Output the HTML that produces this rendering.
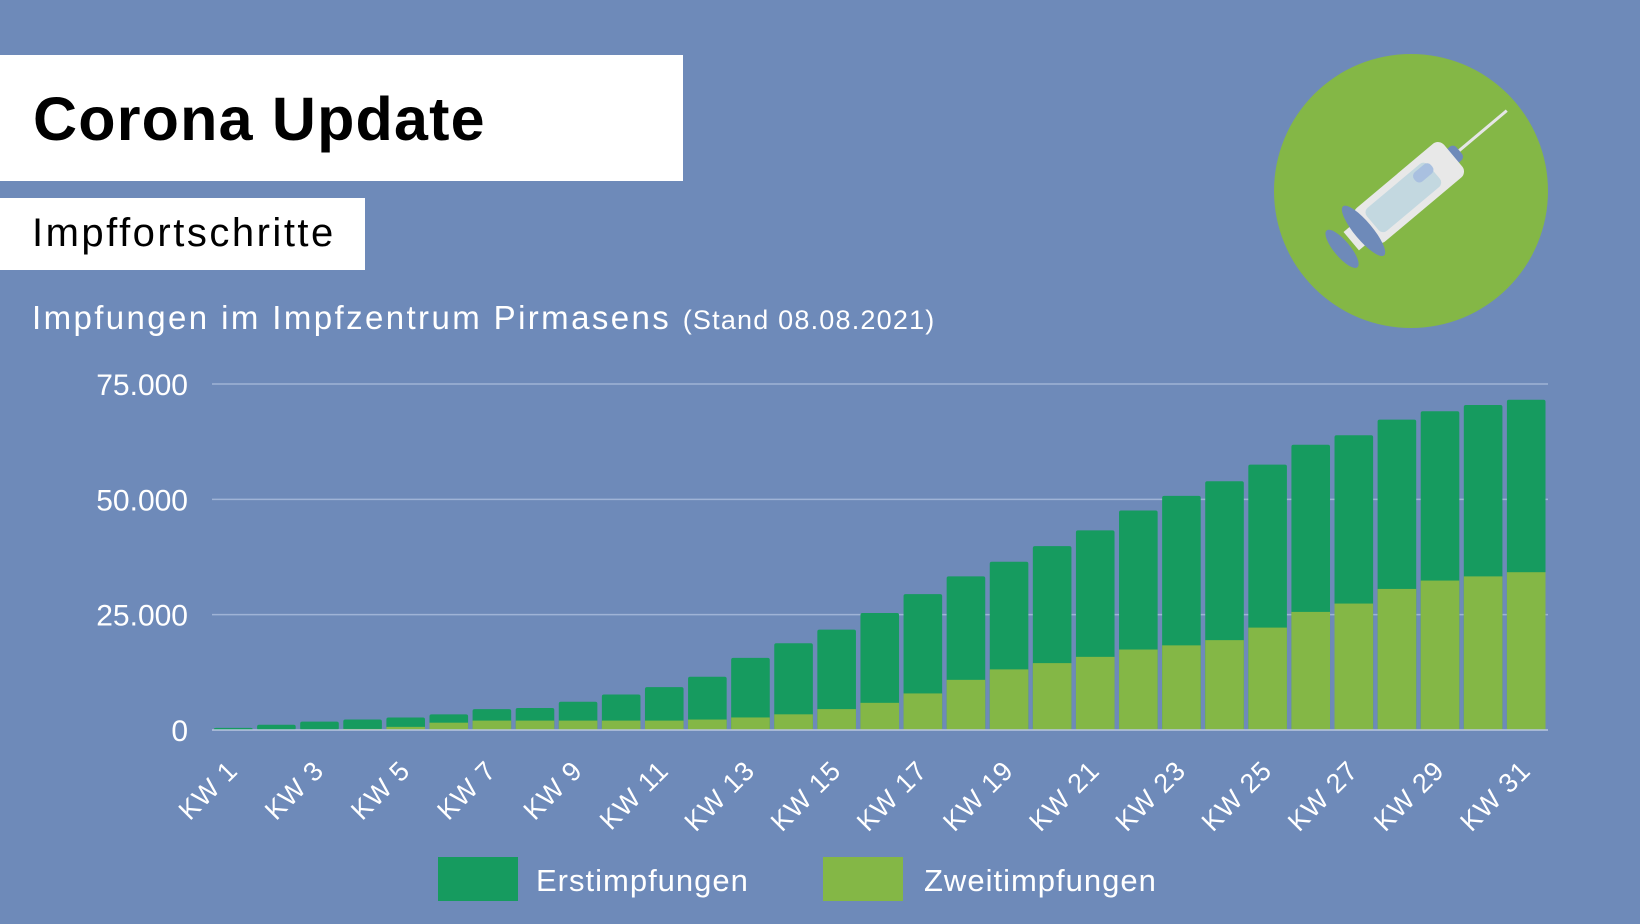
<!DOCTYPE html>
<html><head><meta charset="utf-8"><style>
html,body{margin:0;padding:0;}
body{width:1640px;height:924px;background:#6e8ab9;position:relative;overflow:hidden;font-family:"Liberation Sans","DejaVu Sans",sans-serif;}
.box{position:absolute;background:#fff;left:0;}
</style></head><body>
<div class="box" style="top:55px;width:683px;height:126px;"></div>
<div style="position:absolute;left:33px;top:84px;font-size:61px;font-weight:bold;color:#000;letter-spacing:1.2px;">Corona Update</div>
<div class="box" style="top:198px;width:365px;height:72px;"></div>
<div style="position:absolute;left:32px;top:211px;font-size:40px;color:#000;letter-spacing:2.5px;">Impffortschritte</div>
<div style="position:absolute;left:32px;top:299px;font-size:33px;color:#fff;white-space:nowrap;letter-spacing:2.4px;">Impfungen im Impfzentrum Pirmasens <span style="font-size:27px;letter-spacing:1.2px;">(Stand 08.08.2021)</span></div>
<svg id="s" width="1640" height="924" style="position:absolute;left:0;top:0;">
<circle cx="1411" cy="191" r="137" fill="#84b746"/>
<g transform="translate(1411,191) rotate(-40)">
<line x1="60" y1="0" x2="125" y2="0" stroke="#e6e6e6" stroke-width="3"/>
<rect x="45" y="-9" width="18" height="18" rx="5" fill="#6e8ab9"/>
<rect x="-60" y="-22" width="115" height="44" rx="8" fill="#e8e8e8"/>
<rect x="-50" y="-15" width="80" height="30" rx="6" fill="#c3d8e0"/>
<rect x="10" y="-12" width="22" height="12" rx="5" fill="#a9c0e0"/>
<rect x="-78" y="-12" width="22" height="24" fill="#e8e8e8"/>
<ellipse cx="-62" cy="0" rx="9" ry="32" fill="#6e8ab9"/>
<ellipse cx="-90" cy="0" rx="8" ry="24" fill="#6e8ab9"/>
</g>
</svg>
<script>
var tot=[696,693,690,688,686,683,678,677,671,664,657,647,629,615,602,586,568,551,537,522,507,488,474,460,444,425,416,401,393,387,382];
var sec=[698,698,698,697,695,691,689,689,689,689,689,688,686,683,678,672,663,650,640,634,628,621,617,612,600,585,577,563,555,551,547];
var k=1.045,base=730,x0=212,x1=1548,step=(x1-x0)/31,bw=step-4.5;
var h='';
[0,25,50,75].forEach(function(v,i){var y=base-v/75*346;
 if(v>0)h+='<line x1="'+x0+'" x2="'+x1+'" y1="'+y+'" y2="'+y+'" stroke="#9fb3d6" stroke-width="1.5"/>';
 h+='<text x="188" y="'+(y+11)+'" text-anchor="end" font-size="30" fill="#fff" font-family="Liberation Sans, sans-serif">'+(v?v+'.000':'0')+'</text>';});
for(var i=0;i<31;i++){var x=x0+i*step+2;var yt=base-(698-tot[i])*k,ys=base-(698-sec[i])*k;
 h+='<rect x="'+x+'" y="'+yt+'" width="'+bw+'" height="'+(base-yt)+'" rx="2" fill="#169b5f"/>';
 h+='<rect x="'+x+'" y="'+ys+'" width="'+bw+'" height="'+(base-ys)+'" fill="#84b746"/>';
 if(i%2==0){var cx=x+bw/2+6;h+='<text transform="translate('+cx+',772) rotate(-45)" text-anchor="end" font-size="27" fill="#fff" letter-spacing="1" font-family="Liberation Sans, sans-serif">KW '+(i+1)+'</text>';}}
h+='<line x1="'+x0+'" x2="'+x1+'" y1="'+base+'" y2="'+base+'" stroke="#b8c6e0" stroke-width="1.5"/>';
h+='<rect x="438" y="857" width="80" height="44" fill="#169b5f"/><text x="536" y="891" font-size="31" fill="#fff" letter-spacing="1" font-family="Liberation Sans, sans-serif">Erstimpfungen</text>';
h+='<rect x="823" y="857" width="80" height="44" fill="#84b746"/><text x="924" y="891" font-size="31" fill="#fff" letter-spacing="1" font-family="Liberation Sans, sans-serif">Zweitimpfungen</text>';
document.getElementById('s').insertAdjacentHTML('beforeend',h);
</script>
</body></html>
